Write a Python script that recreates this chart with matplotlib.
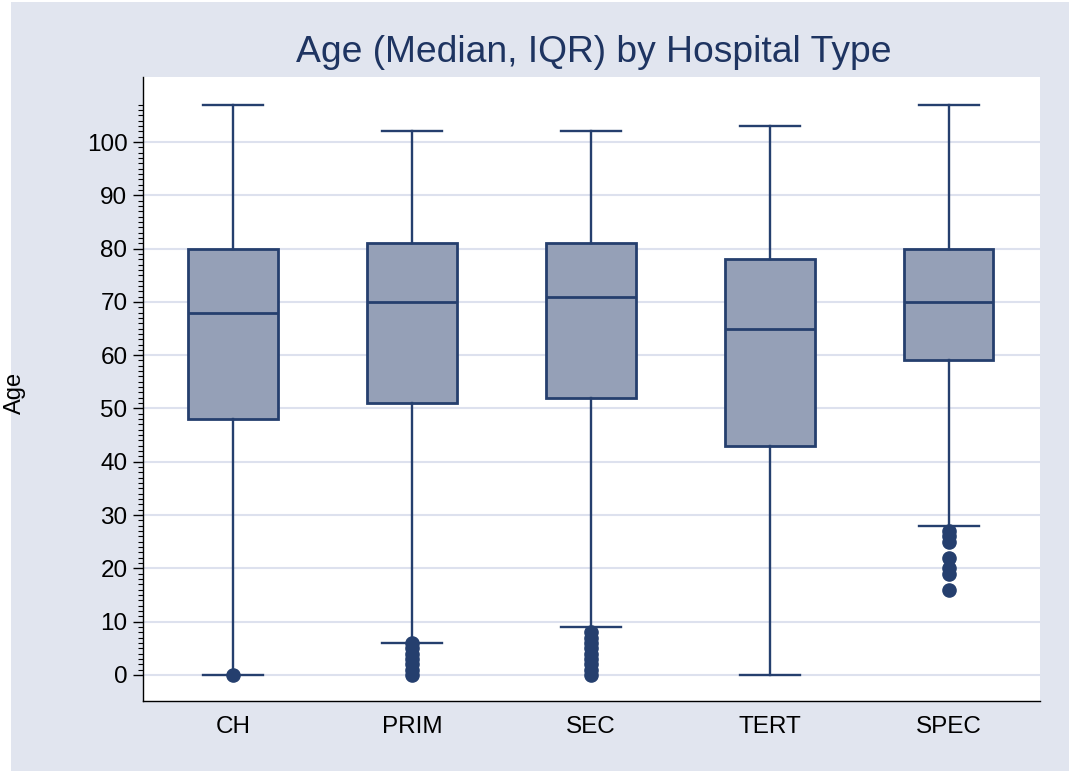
import matplotlib
matplotlib.use("Agg")
import matplotlib.pyplot as plt
from matplotlib.patches import Rectangle
from matplotlib.ticker import FixedLocator

# ---- data ----
categories = ["CH", "PRIM", "SEC", "TERT", "SPEC"]
whisker_low = [0, 6, 9, 0, 28]
q1 = [48, 51, 52, 43, 59]
median = [68, 70, 71, 65, 70]
q3 = [80, 81, 81, 78, 80]
whisker_high = [107, 102, 102, 103, 107]
outliers = [
    [0],
    [0, 1, 2, 3, 4, 5, 6],
    [0, 1, 2, 3, 4, 5, 6, 7, 8],
    [],
    [16, 19, 20, 22, 25, 26, 27],
]
y_major = [0, 10, 20, 30, 40, 50, 60, 70, 80, 90, 100]
y_minor = list(range(0, 108))

# ---- style ----
plt.rcParams['font.family'] = ['Liberation Sans', 'DejaVu Sans']
BG = "#E1E5EF"
NAVY = "#253F6E"
FILL = "#95A0B7"
GRID = "#DDE1EE"
TITLE_C = "#1E3461"

fig = plt.figure(figsize=(10.69, 7.71), dpi=100, facecolor="white")
fig.patches.append(Rectangle((11 / 1069, 0), 1, 1 - 2 / 771, transform=fig.transFigure,
                             facecolor=BG, edgecolor="none", zorder=-10))
ax = fig.add_axes([143 / 1069, 70 / 771, (1040 - 143) / 1069, (701 - 77) / 771])
ax.set_facecolor("white")

stats = []
for i, c in enumerate(categories):
    stats.append(dict(label=c, whislo=whisker_low[i], q1=q1[i], med=median[i],
                      q3=q3[i], whishi=whisker_high[i], fliers=outliers[i]))

positions = list(range(1, len(categories) + 1))
ax.bxp(stats, positions=positions, widths=0.5, capwidths=0.335, patch_artist=True,
       showfliers=True,
       boxprops=dict(facecolor=FILL, edgecolor=NAVY, linewidth=2.0),
       medianprops=dict(color=NAVY, linewidth=2.0),
       whiskerprops=dict(color=NAVY, linewidth=1.7),
       capprops=dict(color=NAVY, linewidth=1.7),
       flierprops=dict(marker="o", markerfacecolor=NAVY, markeredgecolor=NAVY,
                       markersize=9.5, linestyle="none"),
       zorder=3)

ax.set_xlim(0.497, 5.51)
ax.set_ylim(-4.9, 112.2)

ax.yaxis.set_major_locator(FixedLocator(y_major))
ax.yaxis.set_minor_locator(FixedLocator(y_minor))
ax.set_yticklabels([str(v) for v in y_major])
ax.tick_params(axis="y", which="major", length=7.2, width=1.0, pad=4, labelsize=17.5, colors="black")
ax.tick_params(axis="y", which="minor", length=3.6, width=0.8, colors="black")
ax.tick_params(axis="x", which="both", length=0, pad=11, labelsize=17.5)
ax.set_xticks(positions)
ax.set_xticklabels(categories)

ax.grid(axis="y", which="major", color=GRID, linewidth=1.5, zorder=0)
ax.set_axisbelow(True)

for s in ["top", "right"]:
    ax.spines[s].set_visible(False)
for s in ["left", "bottom"]:
    ax.spines[s].set_color("black")
    ax.spines[s].set_linewidth(1.0)

fig.text(15 / 1069, 1 - 393 / 771, "Age", rotation=90, fontsize=17, ha="center", va="center")

fig.text(594 / 1069, 1 - 52 / 771, "Age (Median, IQR) by Hospital Type",
         fontsize=26.8, color=TITLE_C, ha="center", va="center")

fig.savefig("out.png", dpi=100, facecolor=fig.get_facecolor())
